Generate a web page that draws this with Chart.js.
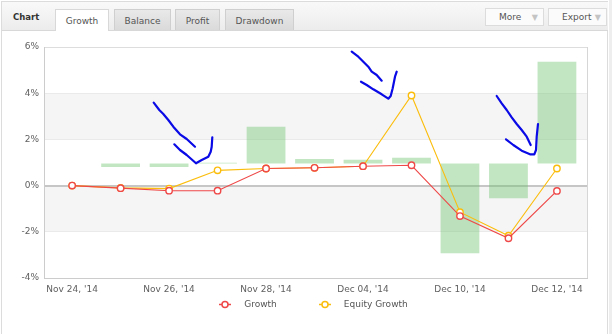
<!DOCTYPE html>
<html>
<head>
<meta charset="utf-8">
<script src="https://cdn.jsdelivr.net/npm/chart.js@4.4.1/dist/chart.umd.min.js"></script>
<style>
  html, body { margin: 0; padding: 0; background: #fff; }
  body { width: 612px; height: 334px; position: relative; overflow: hidden; font-family: "DejaVu Sans", sans-serif; }
  #frame { position: absolute; left: 1px; top: 1px; width: 607px; height: 340px; border: 1px solid #dcdcdc; box-sizing: border-box; }
  #strip { position: absolute; left: 609px; top: 0; width: 3px; height: 334px; background: #eeeeee; }
  #head { position: absolute; left: 2px; top: 2px; width: 606px; height: 28px; background: linear-gradient(#f9f9f9, #ececec); border-bottom: 1px solid #d8d8d8; }
  #head .title { position: absolute; left: 11px; top: 10px; font-size: 8.5px; font-weight: bold; color: #333; }
  .tab { position: absolute; top: 7px; height: 21px; line-height: 23px; text-align: center; font-size: 9px; color: #555; box-sizing: border-box; border: 1px solid #cfcfcf; border-bottom: none; background: linear-gradient(#e9e9e9, #dadada); }
  .tab.on { background: #fff; border-color: #d8d8d8; height: 22px; }
  .btn { position: absolute; top: 6px; height: 18px; line-height: 17px; font-size: 9px; color: #555; background: #fbfbfb; border: 1px solid #dcdcdc; box-sizing: border-box; padding-left: 13px; }
  .btn span { position: absolute; right: 5px; top: 0; color: #c4c4c4; font-size: 8px; }
  #wrap { position: absolute; left: 0; top: 0; width: 612px; height: 334px; }
  #legend { position: absolute; left: 7px; top: 298px; width: 612px; display: flex; justify-content: center; font-size: 9px; color: #555; }
  #legend .item { display: flex; align-items: center; height: 12px; }
  #legend canvas { margin-right: 12px; }
</style>
</head>
<body>
<div id="frame"></div>
<div id="strip"></div>
<div id="head">
  <div class="title">Chart</div>
  <div class="tab on" style="left:53px;width:54px;">Growth</div>
  <div class="tab" style="left:112px;width:57px;">Balance</div>
  <div class="tab" style="left:173px;width:45px;">Profit</div>
  <div class="tab" style="left:223px;width:69px;">Drawdown</div>
  <div class="btn" style="left:483px;width:59px;">More<span>&#9660;</span></div>
  <div class="btn" style="left:546px;width:59px;">Export<span>&#9660;</span></div>
</div>
<div id="wrap"><canvas id="chart" width="612" height="334"></canvas></div>
<div id="legend"></div>

<script>
// ---- DATA ----
const dates = ["Nov 24, '14", "Nov 25, '14", "Nov 26, '14", "Nov 27, '14", "Nov 28, '14", "Dec 02, '14",
               "Dec 04, '14", "Dec 08, '14", "Dec 10, '14", "Dec 11, '14", "Dec 12, '14"];
const labelIdx = [0, 2, 4, 6, 8, 10];
const growth       = [0, -0.11, -0.22, -0.22, 0.74, 0.77, 0.84, 0.88, -1.32, -2.28, -0.23];
const equityGrowth = [0, -0.10, -0.13, 0.66, 0.74, 0.77, 0.84, 3.90, -1.15, -2.17, 0.74];
// daily bars, drawn from a base level to a value
const barFrom = [null, 0.96, 0.96, 0.96, 0.96, 0.96, 0.96, 0.96, 0.96, 0.96, 0.96];
const barTo   = [null, 0.80, 0.80, 0.99, 2.55, 1.15, 1.12, 1.21, -2.93, -0.55, 5.36];
const yTicks = [-4, -2, 0, 2, 4, 6];

const RED = "#ef4848";
const YELLOW = "#fbbd0c";

Chart.defaults.font.family = "'DejaVu Sans', sans-serif";
Chart.defaults.font.size = 9;
Chart.defaults.color = "#606060";

const bandsPlugin = {
  id: "bands",
  beforeDraw(chart) {
    const { ctx, chartArea: a, scales: { y } } = chart;
    ctx.save();
    ctx.fillStyle = "#f5f5f5";
    [[2, 4], [-2, 0]].forEach(([lo, hi]) => {
      const t = y.getPixelForValue(hi), b = y.getPixelForValue(lo);
      ctx.fillRect(a.left, t, a.right - a.left, b - t);
    });
    ctx.restore();
  },
  afterDraw(chart) {
    const { ctx, chartArea: a } = chart;
    ctx.save();
    ctx.strokeStyle = "#d6d6d6";
    ctx.lineWidth = 1;
    ctx.beginPath();
    ctx.moveTo(a.right + 0.5, a.top);
    ctx.lineTo(a.right + 0.5, a.bottom);
    ctx.stroke();
    ctx.restore();
  }
};

// hand drawn blue arrows on the screenshot
const scribbles = [
  [[153.7,102.7],[159.3,110],[163.3,114],[168.3,120],[173.3,126.7],[180,134.3],[186.7,139],[195,146.7]],
  [[174.3,144.3],[180,150],[186.7,155],[196,163.3],[201.7,160],[208.3,156.7],[210.7,151.7],[211.7,146.7],[212.3,137.3]],
  [[351.7,51.7],[358.3,56.7],[363.3,61.7],[368.3,66.7],[371.7,71.7],[376.7,75],[381.7,80.7]],
  [[361,81.7],[366.7,85],[373.3,89.3],[381.7,94.3],[388.3,98.7],[390.7,96],[392.7,88.3],[395,76.7],[396.7,71.7]],
  [[496.7,96],[501.7,103.3],[506.7,110],[511.7,117.3],[516.7,124],[521.7,130],[526.7,136.7],[530.7,145]],
  [[506,139.3],[513.3,145],[521.7,150.7],[530,154.3],[534.3,154.3],[536,150],[536.7,136.7],[538,124]]
];
const scribblePlugin = {
  id: "scribble",
  afterDraw(chart) {
    const ctx = chart.ctx;
    ctx.save();
    ctx.strokeStyle = "#0a0ae6";
    ctx.lineWidth = 2.2;
    ctx.lineJoin = "round";
    ctx.lineCap = "round";
    scribbles.forEach(s => {
      ctx.beginPath();
      s.forEach(([x, y], i) => i ? ctx.lineTo(x, y) : ctx.moveTo(x, y));
      ctx.stroke();
    });
    ctx.restore();
  }
};

const pts = arr => arr.map((v, i) => ({ x: i, y: v }));

const chart = new Chart(document.getElementById("chart"), {
  type: "line",
  data: {
    datasets: [
      {
        label: "Growth",
        data: pts(growth),
        borderColor: RED,
        borderWidth: 1.1,
        pointRadius: 3.2,
        pointBorderWidth: 1.4,
        pointBackgroundColor: "#fff",
        pointBorderColor: RED,
        order: 1
      },
      {
        label: "Equity Growth",
        data: pts(equityGrowth),
        borderColor: YELLOW,
        borderWidth: 1.1,
        pointRadius: 3.2,
        pointBorderWidth: 1.4,
        pointBackgroundColor: "#fff",
        pointBorderColor: YELLOW,
        order: 2
      },
      {
        type: "bar",
        label: "Daily",
        data: barTo.map((v, i) => ({ x: i, y: v === null ? null : [barFrom[i], v] })).filter(d => d.y !== null),
        backgroundColor: "rgba(110, 195, 110, 0.42)",
        borderWidth: 0,
        barPercentage: 0.8,
        categoryPercentage: 1,
        order: 3
      }
    ]
  },
  options: {
    responsive: false,
    animation: false,
    layout: { padding: { left: 0, top: 47, right: 25, bottom: 28 } },
    plugins: { legend: { display: false }, tooltip: { enabled: false } },
    scales: {
      x: {
        type: "linear",
        min: -0.58,
        max: 10.62,
        offset: false,
        afterBuildTicks: s => { s.ticks = labelIdx.map(v => ({ value: v })); },
        afterFit: s => { s.height = 28; },
        ticks: { padding: 6, autoSkip: false, maxRotation: 0, callback: v => dates[v] },
        grid: { display: false, drawTicks: false, offset: false },
        border: { display: true, color: "#cccccc" }
      },
      y: {
        min: -4,
        max: 6,
        afterBuildTicks: s => { s.ticks = yTicks.map(v => ({ value: v })); },
        afterFit: s => { s.width = 44; },
        ticks: { padding: 5, callback: v => v + "%" },
        grid: {
          drawTicks: false,
          color: c => c.tick.value === 0 ? "#c6c6c6" : (c.tick.value === 6 ? "#dddddd" : (c.tick.value === -4 ? "#cccccc" : "#eaeaea")),
          lineWidth: c => c.tick.value === 0 ? 2 : 1
        },
        border: { display: true, color: "#cccccc" }
      }
    }
  },
  plugins: [bandsPlugin, scribblePlugin]
});

// ---- LEGEND ----
const legend = document.getElementById("legend");
chart.data.datasets.filter(d => d.type !== "bar").forEach((d, k) => {
  const item = document.createElement("div");
  item.className = "item";
  if (k > 0) item.style.marginLeft = "41px";
  const c = document.createElement("canvas");
  c.width = 14; c.height = 9;
  const g = c.getContext("2d");
  g.strokeStyle = d.borderColor;
  g.lineWidth = 1.5;
  g.beginPath(); g.moveTo(1, 4.5); g.lineTo(13, 4.5); g.stroke();
  g.beginPath(); g.arc(7, 4.5, 3, 0, Math.PI * 2);
  g.fillStyle = "#fff"; g.fill(); g.stroke();
  const t = document.createElement("span");
  t.textContent = d.label;
  item.appendChild(c);
  item.appendChild(t);
  legend.appendChild(item);
});
</script>
</body>
</html>
